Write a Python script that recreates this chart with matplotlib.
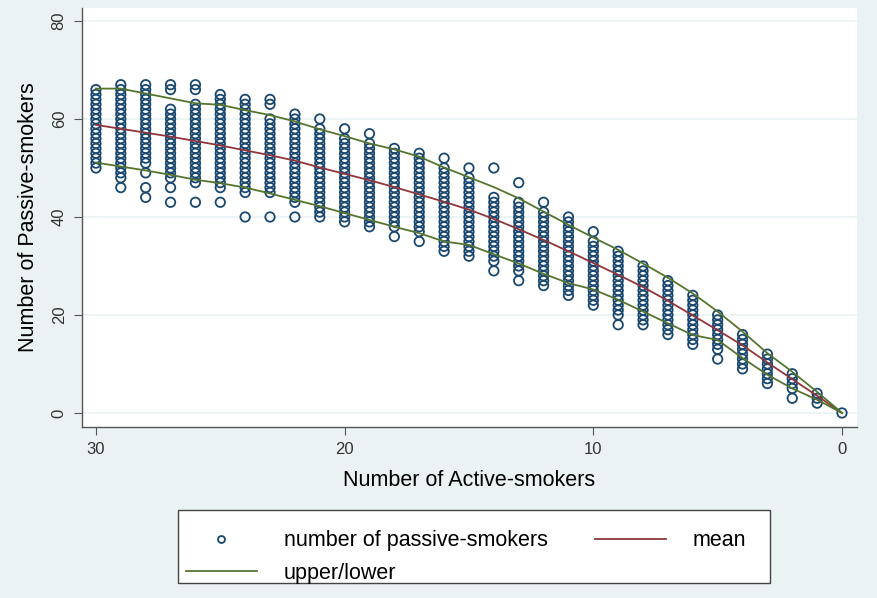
import matplotlib
matplotlib.use("Agg")
import matplotlib.pyplot as plt
from matplotlib.lines import Line2D
from matplotlib.patches import Rectangle

plt.rcParams['font.family'] = ['Liberation Sans', 'DejaVu Sans']

# Number of active smokers (x positions of each column)
active = [30, 29, 28, 27, 26, 25, 24, 23, 22, 21, 20, 19, 18, 17, 16, 15,
          14, 13, 12, 11, 10, 9, 8, 7, 6, 5, 4, 3, 2, 1, 0]
# Dense run of observed passive-smoker counts for each column (lowest..highest)
col_low = [50, 48, 51, 48, 47, 46, 45, 45, 43, 40, 39, 38, 38, 37, 33, 32,
           31, 29, 26, 25, 22, 20, 18, 16, 14, 13, 9, 6, 5, 2, 0]
col_high = [66, 67, 67, 62, 63, 65, 64, 60, 61, 58, 56, 55, 54, 53, 50, 48,
            44, 43, 41, 40, 35, 33, 30, 27, 24, 20, 16, 12, 8, 4, 0]
# Isolated observations outside the dense runs
extra_x = [29, 28, 28, 28, 27, 27, 27, 27, 26, 26, 26, 25, 24, 23, 23, 23,
           22, 21, 20, 19, 18, 17, 16, 15, 14, 14, 13, 13, 12, 11, 10, 9, 5, 2]
extra_y = [46, 49, 46, 44, 67, 66, 46, 43, 67, 66, 43, 43, 40, 64, 63, 40,
           40, 60, 58, 57, 36, 35, 52, 50, 50, 29, 47, 27, 43, 24, 37, 18, 11, 3]

# Fitted curves
mean_y = [58.8, 58.0, 57.2, 56.4, 55.5, 54.6, 53.6, 52.6, 51.5, 50.1, 48.8,
          47.5, 46.1, 44.6, 43.1, 41.5, 39.6, 37.5, 35.3, 33.0, 30.6, 28.2,
          25.7, 22.9, 19.9, 16.9, 13.8, 10.3, 6.9, 3.5, 0.0]
upper_y = [66.2, 66.2, 65.2, 64.2, 63.2, 62.9, 61.8, 60.8, 59.5, 57.9, 56.5,
           55.0, 53.8, 52.3, 50.1, 48.1, 46.1, 43.8, 41.1, 38.4, 35.8, 33.3,
           30.5, 27.6, 24.4, 20.7, 16.6, 12.2, 8.4, 4.3, 0.0]
lower_y = [51.1, 50.3, 49.5, 48.6, 47.6, 46.9, 46.0, 44.8, 43.5, 42.2, 40.8,
           39.4, 38.0, 36.7, 35.0, 34.3, 32.4, 30.5, 28.4, 26.5, 25.2, 23.1,
           20.7, 18.3, 15.9, 14.9, 11.2, 7.8, 5.0, 2.7, 0.0]

x_ticks = [30, 20, 10, 0]
y_ticks = [0, 20, 40, 60, 80]

# Build scatter points
pts_x, pts_y = [], []
for a, lo, hi in zip(active, col_low, col_high):
    for v in range(lo, hi + 1):
        pts_x.append(a)
        pts_y.append(v)
pts_x += extra_x
pts_y += extra_y

BG = '#EAF2F3'
NAVY = '#1a476f'
MAROON = '#90353b'
GREEN = '#55752f'
GRAY = '#555555'

W, H = 878, 598
fig = plt.figure(figsize=(8.78, 5.98), dpi=100, facecolor=BG)
ax = fig.add_axes([0.0934, 0.286, 0.8826, 0.7006])
ax.set_facecolor('white')

for yv in y_ticks:
    ax.axhline(yv, color=BG, lw=1.2, zorder=0)

ax.scatter(pts_x, pts_y, s=46, facecolors='none', edgecolors=NAVY,
           linewidths=1.3, zorder=2)
ax.plot(active, mean_y, color=MAROON, lw=1.3, zorder=3)
ax.plot(active, upper_y, color=GREEN, lw=1.3, zorder=3)
ax.plot(active, lower_y, color=GREEN, lw=1.3, zorder=3)

ax.set_xlim(30.56, -0.6)
ax.set_ylim(-2.86, 82.65)
ax.set_xticks(x_ticks)
ax.set_yticks(y_ticks)
ax.set_yticklabels([str(v) for v in y_ticks], rotation=90, va='center')

for s in ['top', 'right']:
    ax.spines[s].set_visible(False)
for s in ['left', 'bottom']:
    ax.spines[s].set_color(GRAY)
    ax.spines[s].set_linewidth(1.0)
ax.tick_params(direction='out', length=6, color=GRAY, labelsize=12,
               labelcolor='#333333', pad=5)

ax.set_xlabel('Number of Active-smokers', fontsize=15.5, labelpad=9)
ax.set_ylabel('Number of Passive-smokers', fontsize=15.5, labelpad=9)

# Legend box
fig.patches.append(Rectangle((178 / W, 1 - 583 / H), (770 - 178) / W, (583 - 510) / H,
                             transform=fig.transFigure, facecolor='white',
                             edgecolor='#444444', linewidth=1.0, zorder=0))

h_sc = Line2D([], [], ls='none', marker='o', markersize=5, markerfacecolor='none',
              markeredgecolor=NAVY, markeredgewidth=1.3)
h_mean = Line2D([], [], color=MAROON, lw=1.3)
h_ul = Line2D([], [], color=GREEN, lw=1.3)
leg = fig.legend([h_sc, h_ul, h_mean],
                 ['number of passive-smokers', 'upper/lower', 'mean'],
                 ncol=2, loc='center', bbox_to_anchor=(0.531, 1 - 557 / H),
                 fontsize=15.5, frameon=False,
                 handlelength=3.3, handletextpad=1.25, columnspacing=2.2,
                 labelspacing=0.55, borderpad=0.5)

fig.savefig('out.png', dpi=100, facecolor=BG)
